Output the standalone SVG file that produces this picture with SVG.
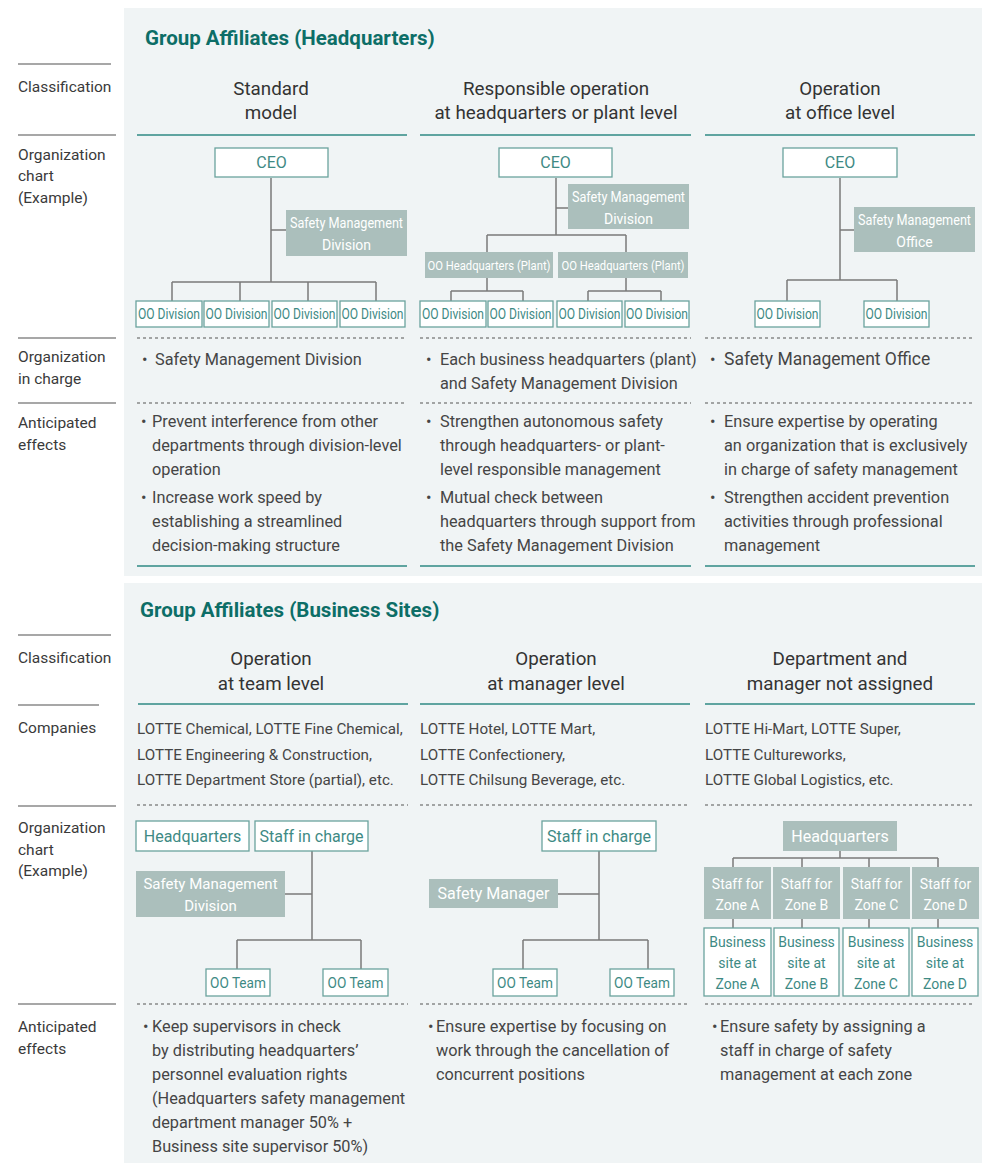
<svg xmlns="http://www.w3.org/2000/svg" width="982" height="1163" viewBox="0 0 982 1163">
  <style>
    .panel { fill: #f0f4f5; }
    .title { font-family: Roboto, "Liberation Sans", sans-serif; font-weight: 700; font-size: 20.5px; fill: #0d6e67; }
    .lbl { font-family: Roboto, "Liberation Sans", sans-serif; font-size: 15.5px; fill: #3a3a3a; }
    .hdr { font-family: Roboto, "Liberation Sans", sans-serif; font-size: 18.8px; fill: #333; text-anchor: middle; }
    .body { font-family: Roboto, "Liberation Sans", sans-serif; font-size: 16.3px; fill: #454545; }
    .co { font-family: Roboto, "Liberation Sans", sans-serif; font-size: 15.2px; fill: #454545; }
    .rule { stroke: #8a8a8a; stroke-width: 1.5; }
    .teal { stroke: #2f8a83; stroke-width: 1.5; }
    .dash { stroke: #555; stroke-width: 1.2; stroke-dasharray: 3 3; }
    .box { fill: #ffffff; stroke: #6aa39d; stroke-width: 1.3; }
    .gbox { fill: #abbfbc; }
    .bt { font-family: Roboto, "Liberation Sans", sans-serif; font-size: 14px; fill: #3e8a84; text-anchor: middle; }
    .gt { font-family: Roboto, "Liberation Sans", sans-serif; font-size: 14px; fill: #ffffff; text-anchor: middle; }
    .ceo { font-family: Roboto, "Liberation Sans", sans-serif; font-size: 16px; fill: #3e8a84; text-anchor: middle; }
    .conn { fill: none; stroke: #7a7a7a; stroke-width: 1.5; }
  </style>

  <!-- background panels -->
  <rect class="panel" x="124" y="8" width="858" height="568"/>
  <rect class="panel" x="124" y="583" width="858" height="580"/>

  <!-- ===================== Headquarters section ===================== -->
  <text class="title" x="145" y="45">Group Affiliates (Headquarters)</text>

  <g id="hq-row-labels">
    <line class="rule" x1="18" y1="64" x2="111" y2="64"/>
    <text class="lbl" x="18" y="92">Classification</text>
    <line class="rule" x1="18" y1="135" x2="116" y2="135"/>
    <text class="lbl" x="18" y="160">Organization</text>
    <text class="lbl" x="18" y="181">chart</text>
    <text class="lbl" x="18" y="203">(Example)</text>
    <line class="rule" x1="18" y1="338" x2="116" y2="338"/>
    <text class="lbl" x="18" y="362">Organization</text>
    <text class="lbl" x="18" y="384">in charge</text>
    <line class="rule" x1="18" y1="403" x2="116" y2="403"/>
    <text class="lbl" x="18" y="428">Anticipated</text>
    <text class="lbl" x="18" y="450">effects</text>
  </g>

  <g id="hq-headers">
    <text class="hdr" x="271" y="95">Standard</text>
    <text class="hdr" x="271" y="119">model</text>
    <text class="hdr" x="556" y="95">Responsible operation</text>
    <text class="hdr" x="556" y="119">at headquarters or plant level</text>
    <text class="hdr" x="840" y="95">Operation</text>
    <text class="hdr" x="840" y="119">at office level</text>
    <line class="teal" x1="137" y1="135" x2="407" y2="135"/>
    <line class="teal" x1="420" y1="135" x2="691" y2="135"/>
    <line class="teal" x1="705" y1="135" x2="975" y2="135"/>
  </g>

  <g id="hq-dividers">
    <line class="dash" x1="137" y1="338" x2="407" y2="338"/>
    <line class="dash" x1="420" y1="338" x2="691" y2="338"/>
    <line class="dash" x1="705" y1="338" x2="975" y2="338"/>
    <line class="dash" x1="137" y1="403" x2="407" y2="403"/>
    <line class="dash" x1="420" y1="403" x2="691" y2="403"/>
    <line class="dash" x1="705" y1="403" x2="975" y2="403"/>
    <line class="teal" x1="137" y1="566" x2="407" y2="566"/>
    <line class="teal" x1="420" y1="566" x2="691" y2="566"/>
    <line class="teal" x1="705" y1="566" x2="975" y2="566"/>
  </g>

  <!-- connectors, headquarters charts -->
  <g id="hq-connectors">
    <!-- standard model -->
    <path class="conn" d="M271 178 V282 M271 230 H286 M172 282 H376 M172 282 V301 M240 282 V301 M308 282 V301 M376 282 V301"/>
    <!-- headquarters / plant level -->
    <path class="conn" d="M556 178 V235 M556 208 H568 M487 235 H626 M487 235 V252 M626 235 V252 M487 278 V291 M451 291 H523 M451 291 V301 M523 291 V301 M626 278 V291 M588 291 H661 M588 291 V301 M661 291 V301"/>
    <!-- office level -->
    <path class="conn" d="M840 178 V280 M840 230 H854 M787 280 H897 M787 280 V301 M897 280 V301"/>
  </g>

  <!-- standard model chart -->
  <g id="std-ceo"><rect class="box" x="215" y="148" width="113" height="29"/><text class="ceo" x="271.5" y="168">CEO</text></g>
  <g id="std-smd"><rect class="gbox" x="286" y="210" width="121" height="46"/><text class="gt" x="346.5" y="228" textLength="113" lengthAdjust="spacingAndGlyphs">Safety Management</text><text class="gt" x="346.5" y="250">Division</text></g>
  <g id="std-div1"><rect class="box" x="136" y="301" width="66" height="26"/><text class="bt" x="169" y="319" textLength="62" lengthAdjust="spacingAndGlyphs">OO Division</text></g>
  <g id="std-div2"><rect class="box" x="204" y="301" width="65" height="26"/><text class="bt" x="236.5" y="319" textLength="62" lengthAdjust="spacingAndGlyphs">OO Division</text></g>
  <g id="std-div3"><rect class="box" x="272" y="301" width="65" height="26"/><text class="bt" x="304.5" y="319" textLength="62" lengthAdjust="spacingAndGlyphs">OO Division</text></g>
  <g id="std-div4"><rect class="box" x="340" y="301" width="65" height="26"/><text class="bt" x="372.5" y="319" textLength="62" lengthAdjust="spacingAndGlyphs">OO Division</text></g>

  <!-- headquarters / plant level chart -->
  <g id="plant-ceo"><rect class="box" x="499" y="148" width="113" height="29"/><text class="ceo" x="555.5" y="168">CEO</text></g>
  <g id="plant-smd"><rect class="gbox" x="568" y="184" width="121" height="45"/><text class="gt" x="628.5" y="202" textLength="113" lengthAdjust="spacingAndGlyphs">Safety Management</text><text class="gt" x="628.5" y="224">Division</text></g>
  <g id="plant-hq1"><rect class="gbox" x="425" y="252" width="128" height="26"/><text class="gt" x="489" y="270" style="font-size:12.3px" textLength="123" lengthAdjust="spacingAndGlyphs">OO Headquarters (Plant)</text></g>
  <g id="plant-hq2"><rect class="gbox" x="558" y="252" width="130" height="26"/><text class="gt" x="623" y="270" style="font-size:12.3px" textLength="123" lengthAdjust="spacingAndGlyphs">OO Headquarters (Plant)</text></g>
  <g id="plant-div1"><rect class="box" x="420" y="301" width="66" height="26"/><text class="bt" x="453" y="319" textLength="62" lengthAdjust="spacingAndGlyphs">OO Division</text></g>
  <g id="plant-div2"><rect class="box" x="488" y="301" width="65" height="26"/><text class="bt" x="520.5" y="319" textLength="62" lengthAdjust="spacingAndGlyphs">OO Division</text></g>
  <g id="plant-div3"><rect class="box" x="557" y="301" width="65" height="26"/><text class="bt" x="589.5" y="319" textLength="62" lengthAdjust="spacingAndGlyphs">OO Division</text></g>
  <g id="plant-div4"><rect class="box" x="625" y="301" width="64" height="26"/><text class="bt" x="657" y="319" textLength="62" lengthAdjust="spacingAndGlyphs">OO Division</text></g>

  <!-- office level chart -->
  <g id="office-ceo"><rect class="box" x="783" y="148" width="114" height="29"/><text class="ceo" x="840" y="168">CEO</text></g>
  <g id="office-smo"><rect class="gbox" x="854" y="207" width="121" height="45"/><text class="gt" x="914.5" y="225" textLength="113" lengthAdjust="spacingAndGlyphs">Safety Management</text><text class="gt" x="914.5" y="247">Office</text></g>
  <g id="office-div1"><rect class="box" x="755" y="301" width="65" height="26"/><text class="bt" x="787.5" y="319" textLength="62" lengthAdjust="spacingAndGlyphs">OO Division</text></g>
  <g id="office-div2"><rect class="box" x="864" y="301" width="65" height="26"/><text class="bt" x="896.5" y="319" textLength="62" lengthAdjust="spacingAndGlyphs">OO Division</text></g>

  <!-- organization in charge -->
  <g id="hq-in-charge">
    <text class="body" x="142" y="365">•</text>
    <text class="body" x="155" y="365">Safety Management Division</text>
    <text class="body" x="426" y="365">•</text>
    <text class="body" x="440" y="365">Each business headquarters (plant)</text>
    <text class="body" x="440" y="389">and Safety Management Division</text>
    <text class="body" x="710" y="365">•</text>
    <text class="body" x="724" y="365" style="font-size:17.5px">Safety Management Office</text>
  </g>

  <!-- anticipated effects -->
  <g id="hq-effects">
    <text class="body" x="141" y="427">•</text>
    <text class="body" x="152" y="427">Prevent interference from other</text>
    <text class="body" x="152" y="451">departments through division-level</text>
    <text class="body" x="152" y="475">operation</text>
    <text class="body" x="141" y="503">•</text>
    <text class="body" x="152" y="503">Increase work speed by</text>
    <text class="body" x="152" y="527">establishing a streamlined</text>
    <text class="body" x="152" y="551">decision-making structure</text>

    <text class="body" x="426" y="427">•</text>
    <text class="body" x="440" y="427">Strengthen autonomous safety</text>
    <text class="body" x="440" y="451">through headquarters- or plant-</text>
    <text class="body" x="440" y="475">level responsible management</text>
    <text class="body" x="426" y="503">•</text>
    <text class="body" x="440" y="503">Mutual check between</text>
    <text class="body" x="440" y="527">headquarters through support from</text>
    <text class="body" x="440" y="551">the Safety Management Division</text>

    <text class="body" x="710" y="427">•</text>
    <text class="body" x="724" y="427">Ensure expertise by operating</text>
    <text class="body" x="724" y="451">an organization that is exclusively</text>
    <text class="body" x="724" y="475">in charge of safety management</text>
    <text class="body" x="710" y="503">•</text>
    <text class="body" x="724" y="503">Strengthen accident prevention</text>
    <text class="body" x="724" y="527">activities through professional</text>
    <text class="body" x="724" y="551">management</text>
  </g>

  <!-- ===================== Business sites section ===================== -->
  <text class="title" x="140" y="617">Group Affiliates (Business Sites)</text>

  <g id="site-row-labels">
    <line class="rule" x1="18" y1="635" x2="111" y2="635"/>
    <text class="lbl" x="18" y="663">Classification</text>
    <line class="rule" x1="18" y1="705" x2="99" y2="705"/>
    <text class="lbl" x="18" y="733">Companies</text>
    <line class="rule" x1="18" y1="806" x2="116" y2="806"/>
    <text class="lbl" x="18" y="833">Organization</text>
    <text class="lbl" x="18" y="855">chart</text>
    <text class="lbl" x="18" y="876">(Example)</text>
    <line class="rule" x1="18" y1="1004" x2="116" y2="1004"/>
    <text class="lbl" x="18" y="1032">Anticipated</text>
    <text class="lbl" x="18" y="1054">effects</text>
  </g>

  <g id="site-headers">
    <text class="hdr" x="271" y="665">Operation</text>
    <text class="hdr" x="271" y="690">at team level</text>
    <text class="hdr" x="556" y="665">Operation</text>
    <text class="hdr" x="556" y="690">at manager level</text>
    <text class="hdr" x="840" y="665">Department and</text>
    <text class="hdr" x="840" y="690">manager not assigned</text>
    <line class="teal" x1="138" y1="704" x2="408" y2="704"/>
    <line class="teal" x1="420" y1="704" x2="690" y2="704"/>
    <line class="teal" x1="705" y1="704" x2="975" y2="704"/>
  </g>

  <g id="site-companies">
    <text class="co" x="137" y="734">LOTTE Chemical, LOTTE Fine Chemical,</text>
    <text class="co" x="137" y="760">LOTTE Engineering &amp; Construction,</text>
    <text class="co" x="137" y="785">LOTTE Department Store (partial), etc.</text>
    <text class="co" x="420" y="734">LOTTE Hotel, LOTTE Mart,</text>
    <text class="co" x="420" y="760">LOTTE Confectionery,</text>
    <text class="co" x="420" y="785">LOTTE Chilsung Beverage, etc.</text>
    <text class="co" x="705" y="734">LOTTE Hi-Mart, LOTTE Super,</text>
    <text class="co" x="705" y="760">LOTTE Cultureworks,</text>
    <text class="co" x="705" y="785">LOTTE Global Logistics, etc.</text>
  </g>

  <g id="site-dividers">
    <line class="dash" x1="137" y1="805" x2="408" y2="805"/>
    <line class="dash" x1="420" y1="805" x2="690" y2="805"/>
    <line class="dash" x1="705" y1="805" x2="975" y2="805"/>
    <line class="dash" x1="137" y1="1004" x2="408" y2="1004"/>
    <line class="dash" x1="420" y1="1004" x2="690" y2="1004"/>
    <line class="dash" x1="705" y1="1004" x2="975" y2="1004"/>
  </g>

  <!-- connectors, business site charts -->
  <g id="site-connectors">
    <path class="conn" d="M312 851 V940 M285 894 H312 M237 940 H361 M237 940 V969 M361 940 V969"/>
    <path class="conn" d="M599 851 V940 M558 894 H599 M523 940 H648 M523 940 V969 M648 940 V969"/>
    <path class="conn" d="M840 851 V858 M733 858 H938 M733 858 V867 M802 858 V867 M869 858 V867 M938 858 V867 M733 919 V928 M802 919 V928 M869 919 V928 M938 919 V928"/>
  </g>

  <!-- team level chart -->
  <g id="team-hq"><rect class="box" x="136" y="821" width="113" height="30"/><text class="bt" x="192.5" y="842" style="font-size:16px">Headquarters</text></g>
  <g id="team-staff"><rect class="box" x="255" y="821" width="113" height="30"/><text class="bt" x="311.5" y="842" style="font-size:16px">Staff in charge</text></g>
  <g id="team-smd"><rect class="gbox" x="136" y="871" width="149" height="46"/><text class="gt" x="210.5" y="889" style="font-size:15px">Safety Management</text><text class="gt" x="210.5" y="911" style="font-size:15px">Division</text></g>
  <g id="team-t1"><rect class="box" x="206" y="969" width="64" height="27"/><text class="bt" x="238" y="988" textLength="56" lengthAdjust="spacingAndGlyphs">OO Team</text></g>
  <g id="team-t2"><rect class="box" x="323" y="969" width="65" height="27"/><text class="bt" x="355.5" y="988" textLength="56" lengthAdjust="spacingAndGlyphs">OO Team</text></g>

  <!-- manager level chart -->
  <g id="mgr-staff"><rect class="box" x="542" y="821" width="114" height="30"/><text class="bt" x="599" y="842" style="font-size:16px">Staff in charge</text></g>
  <g id="mgr-sm"><rect class="gbox" x="429" y="879" width="129" height="29"/><text class="gt" x="493.5" y="899" style="font-size:16px">Safety Manager</text></g>
  <g id="mgr-t1"><rect class="box" x="493" y="969" width="64" height="27"/><text class="bt" x="525" y="988" textLength="56" lengthAdjust="spacingAndGlyphs">OO Team</text></g>
  <g id="mgr-t2"><rect class="box" x="610" y="969" width="64" height="27"/><text class="bt" x="642" y="988" textLength="56" lengthAdjust="spacingAndGlyphs">OO Team</text></g>

  <!-- zone chart -->
  <g id="zone-hq"><rect class="gbox" x="783" y="821" width="114" height="30"/><text class="gt" x="840" y="842" style="font-size:16px">Headquarters</text></g>
  <g id="zone-staff-a"><rect class="gbox" x="704" y="867" width="67" height="52"/><text class="gt" x="737.5" y="889">Staff for</text><text class="gt" x="737.5" y="910">Zone A</text></g>
  <g id="zone-staff-b"><rect class="gbox" x="773" y="867" width="67" height="52"/><text class="gt" x="806.5" y="889">Staff for</text><text class="gt" x="806.5" y="910">Zone B</text></g>
  <g id="zone-staff-c"><rect class="gbox" x="843" y="867" width="67" height="52"/><text class="gt" x="876.5" y="889">Staff for</text><text class="gt" x="876.5" y="910">Zone C</text></g>
  <g id="zone-staff-d"><rect class="gbox" x="912" y="867" width="67" height="52"/><text class="gt" x="945.5" y="889">Staff for</text><text class="gt" x="945.5" y="910">Zone D</text></g>
  <g id="zone-site-a"><rect class="box" x="704" y="928" width="67" height="68"/><text class="bt" x="737.5" y="947">Business</text><text class="bt" x="737.5" y="968">site at</text><text class="bt" x="737.5" y="989">Zone A</text></g>
  <g id="zone-site-b"><rect class="box" x="774" y="928" width="65" height="68"/><text class="bt" x="806.5" y="947">Business</text><text class="bt" x="806.5" y="968">site at</text><text class="bt" x="806.5" y="989">Zone B</text></g>
  <g id="zone-site-c"><rect class="box" x="843" y="928" width="66" height="68"/><text class="bt" x="876" y="947">Business</text><text class="bt" x="876" y="968">site at</text><text class="bt" x="876" y="989">Zone C</text></g>
  <g id="zone-site-d"><rect class="box" x="912" y="928" width="66" height="68"/><text class="bt" x="945" y="947">Business</text><text class="bt" x="945" y="968">site at</text><text class="bt" x="945" y="989">Zone D</text></g>

  <!-- anticipated effects, business sites -->
  <g id="site-effects">
    <text class="body" x="143" y="1032">•</text>
    <text class="body" x="152" y="1032">Keep supervisors in check</text>
    <text class="body" x="152" y="1056">by distributing headquarters’</text>
    <text class="body" x="152" y="1080">personnel evaluation rights</text>
    <text class="body" x="152" y="1104">(Headquarters safety management</text>
    <text class="body" x="152" y="1128">department manager 50% +</text>
    <text class="body" x="152" y="1152">Business site supervisor 50%)</text>

    <text class="body" x="428" y="1032">•</text>
    <text class="body" x="436" y="1032">Ensure expertise by focusing on</text>
    <text class="body" x="436" y="1056">work through the cancellation of</text>
    <text class="body" x="436" y="1080">concurrent positions</text>

    <text class="body" x="712" y="1032">•</text>
    <text class="body" x="720" y="1032">Ensure safety by assigning a</text>
    <text class="body" x="720" y="1056">staff in charge of safety</text>
    <text class="body" x="720" y="1080">management at each zone</text>
  </g>
</svg>
